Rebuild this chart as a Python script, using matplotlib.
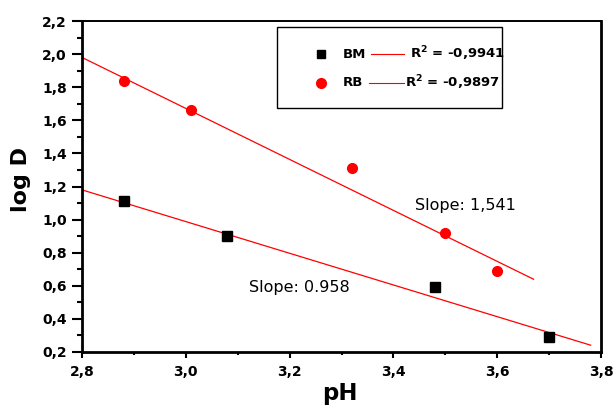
import numpy as np
import matplotlib
matplotlib.use("Agg")
from matplotlib import pyplot as plt
from matplotlib.ticker import MultipleLocator, FuncFormatter
from matplotlib.patches import Rectangle

plt.rcParams['font.family'] = ['DejaVu Sans']

# data
ph_bm = [2.88, 3.08, 3.48, 3.70]
logd_bm = [1.11, 0.90, 0.59, 0.29]
ph_rb = [2.88, 3.01, 3.32, 3.50, 3.60]
logd_rb = [1.84, 1.66, 1.31, 0.92, 0.69]

# fitted lines: intercept, slope, x range
fit_bm = (3.862, -0.958, 2.80, 3.78)
fit_rb = (6.295, -1.541, 2.80, 3.67)
r2_bm = "-0,9941"
r2_rb = "-0,9897"

fig = plt.figure(figsize=(6.15, 4.05), dpi=100)
ax = fig.add_axes([0.1333, 0.131, 0.844, 0.817])

for a, b, x0, x1 in (fit_bm, fit_rb):
    xs = np.array([x0, x1])
    ax.plot(xs, a + b * xs, color='red', lw=0.9)

ax.plot(ph_bm, logd_bm, 's', color='black', ms=6.5, ls='none')
ax.plot(ph_rb, logd_rb, 'o', color='red', ms=7, ls='none')

ax.set_xlim(2.8, 3.8)
ax.set_ylim(0.2, 2.2)
ax.xaxis.set_major_locator(MultipleLocator(0.2))
ax.xaxis.set_minor_locator(MultipleLocator(0.1))
ax.yaxis.set_major_locator(MultipleLocator(0.2))
ax.yaxis.set_minor_locator(MultipleLocator(0.1))
comma = FuncFormatter(lambda v, p: f"{v:.1f}".replace('.', ','))
ax.xaxis.set_major_formatter(comma)
ax.yaxis.set_major_formatter(comma)
ax.tick_params(axis='y', which='major', direction='out', length=7, width=1.5,
               labelsize=10, pad=4)
ax.tick_params(axis='y', which='minor', direction='out', length=3.5, width=1.5)
ax.tick_params(axis='x', which='major', direction='out', length=4.5, width=1.5,
               labelsize=10, pad=5)
ax.tick_params(axis='x', which='minor', direction='out', length=2.5, width=1.5)
for lab in ax.get_xticklabels() + ax.get_yticklabels():
    lab.set_fontweight('bold')
for s in ax.spines.values():
    s.set_linewidth(2.0)
ax.spines['top'].set_linewidth(1.4)

ax.set_xlabel('pH', fontsize=16.5, fontweight='bold')
ax.xaxis.set_label_coords(0.497, -0.09)
ax.xaxis.label.set_va('top')
ax.set_ylabel('log D', fontsize=16, fontweight='bold')
ax.yaxis.set_label_coords(-0.1175, 0.52)
ax.yaxis.label.set_va('center')

ax.text(3.122, 0.587, 'Slope: 0.958', fontsize=11.5, va='center')
ax.text(3.442, 1.088, 'Slope: 1,541', fontsize=11.5, va='center')

# legend box, Origin style
tr = ax.transAxes
ax.add_patch(Rectangle((0.376, 0.737), 0.433, 0.245, transform=tr,
                       fill=False, lw=1.0, ec='black', zorder=5))
rows = [(0.900, 's', 'black', 'BM', r2_bm, 0.557, 0.632),
        (0.813, 'o', 'red', 'RB', r2_rb, 0.553, 0.622)]
for y, m, c, name, r2, lx0, tx in rows:
    ax.plot([0.460], [y], m, color=c, ms=6 if m == 's' else 7,
            transform=tr, clip_on=False, zorder=6)
    ax.text(0.503, y, name, transform=tr, fontsize=9.5, fontweight='bold',
            va='center')
    ax.plot([lx0, 0.620], [y, y], color='red', lw=0.8, transform=tr)
    ax.text(tx, y, r'R$^{\mathbf{2}}$ = ' + r2, transform=tr, fontsize=9.5,
            fontweight='bold', va='center')

fig.savefig('out.png', dpi=100)
